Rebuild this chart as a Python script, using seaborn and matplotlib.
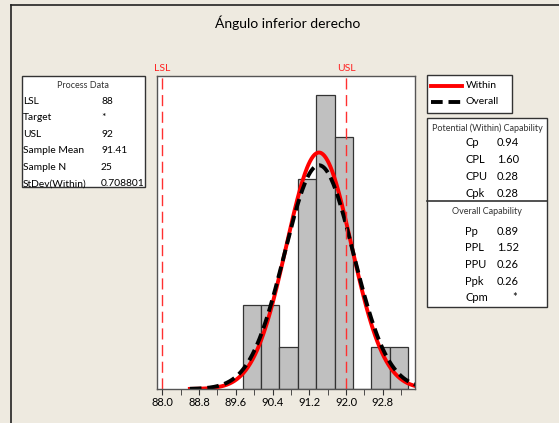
import numpy as np
import pandas as pd
import matplotlib
matplotlib.use("Agg")
import matplotlib.pyplot as plt
from matplotlib.lines import Line2D
from matplotlib.patches import Rectangle
import seaborn as sns

# histogram bins (midpoints) and counts
bin_mid = [89.95, 90.35, 90.75, 91.15, 91.55, 91.95, 92.35, 92.75, 93.15]
counts = [2, 2, 1, 5, 7, 6, 0, 1, 1]
bin_edges = [89.75, 90.15, 90.55, 90.95, 91.35, 91.75, 92.15, 92.55, 92.95, 93.35]

lsl = 88.0
usl = 92.0
mean = 91.41
n = 25
sd_within = 0.708801
sd_overall = 0.749

xticks = [88.0, 88.8, 89.6, 90.4, 91.2, 92.0, 92.8]

proc_labels = ["LSL", "Target", "USL", "Sample Mean", "Sample N", "StDev(Within)"]
proc_values = ["88", "*", "92", "91.41", "25", "0.708801"]
pot_labels = ["Cp", "CPL", "CPU", "Cpk"]
pot_values = ["0.94", "1.60", "0.28", "0.28"]
ovr_labels = ["Pp", "PPL", "PPU", "Ppk", "Cpm"]
ovr_values = ["0.89", "1.52", "0.26", "0.26", "*"]

W, H = 559, 423
bg = "#EEEAE0"
FONT = ["Lato", "DejaVu Sans"]
plt.rcParams["font.family"] = FONT

fig = plt.figure(figsize=(W / 100, H / 100), dpi=100, facecolor=bg)

def fx(x):
    return x / W

def fy(y):
    return 1 - y / H

# outer frame lines
fig.add_artist(Line2D([fx(11), 1], [fy(5), fy(5)], color="#222222", lw=1.2))
fig.add_artist(Line2D([fx(11), fx(11)], [fy(5), 0], color="#222222", lw=1.2))

fig.text(fx(288), fy(23), "Ángulo inferior derecho", ha="center", va="center", fontsize=10)

# main plot
ax = fig.add_axes([fx(157), fy(389), fx(415 - 157), (389 - 76) / H])
ax.set_facecolor("white")
hist_df = pd.DataFrame({"x": bin_mid, "w": counts})
sns.histplot(data=hist_df, x="x", weights="w", bins=bin_edges, stat="count",
             color="#C0C0C0", edgecolor="#333333", linewidth=0.9, alpha=1, ax=ax)

xs = np.linspace(88.6, 93.52, 300)
scale = n * 0.4
curve = pd.DataFrame({
    "x": xs,
    "within": scale * np.exp(-0.5 * ((xs - mean) / sd_within) ** 2) / (sd_within * np.sqrt(2 * np.pi)),
    "overall": scale * np.exp(-0.5 * ((xs - mean) / sd_overall) ** 2) / (sd_overall * np.sqrt(2 * np.pi)),
})
sns.lineplot(data=curve, x="x", y="within", color="#FF0000", lw=2.8, ax=ax)
sns.lineplot(data=curve, x="x", y="overall", color="black", lw=2.8, ax=ax,
             linestyle=(0, (3, 1.5)))

ax.axvline(lsl, color="#FF3030", lw=1, linestyle=(0, (8, 4)))
ax.axvline(usl, color="#FF3030", lw=1, linestyle=(0, (8, 4)))
ax.text(lsl, 1.01, "LSL", transform=ax.get_xaxis_transform(), color="#FF2020",
        ha="center", va="bottom", fontsize=7.5)
ax.text(usl, 1.01, "USL", transform=ax.get_xaxis_transform(), color="#FF2020",
        ha="center", va="bottom", fontsize=7.5)

ax.set_xlim(87.885, 93.5)
ax.set_ylim(0, 7.45)
ax.set_xticks(xticks)
ax.set_xticklabels([f"{t:.1f}" for t in xticks], fontsize=8)
ax.set_xticks(np.arange(88.4, 93.3, 0.8), minor=True)
ax.tick_params(axis="x", which="both", length=4, color="#333333", pad=2)
ax.set_yticks([])
ax.set_xlabel("")
ax.set_ylabel("")
for s in ax.spines.values():
    s.set_color("#555555")
    s.set_linewidth(1)

# process data box
fig.add_artist(Rectangle((fx(22), fy(187)), fx(145 - 22), (187 - 76) / H,
                         transform=fig.transFigure, facecolor="white",
                         edgecolor="#333333", lw=1))
fig.text(fx(83), fy(86), "Process Data", ha="center", va="center", fontsize=6.5, color="#333333")
for i, (lab, val) in enumerate(zip(proc_labels, proc_values)):
    y = 101 + i * 16.6
    fig.text(fx(23), fy(y), lab, ha="left", va="center", fontsize=7.4)
    fig.text(fx(101), fy(y), val, ha="left", va="center", fontsize=7.4)

# legend box
fig.add_artist(Rectangle((fx(427), fy(113)), fx(512 - 427), (113 - 75) / H,
                         transform=fig.transFigure, facecolor="white",
                         edgecolor="#333333", lw=1))
fig.add_artist(Line2D([fx(431), fx(462)], [fy(86), fy(86)], color="#FF0000", lw=2.8))
fig.add_artist(Line2D([fx(431), fx(462)], [fy(102), fy(102)], color="black", lw=2.8,
                      linestyle=(0, (3, 1.5))))
fig.text(fx(466), fy(86), "Within", ha="left", va="center", fontsize=7.5)
fig.text(fx(466), fy(102), "Overall", ha="left", va="center", fontsize=7.5)

# capability box
fig.add_artist(Rectangle((fx(427), fy(307)), fx(547 - 427), (307 - 118) / H,
                         transform=fig.transFigure, facecolor="white",
                         edgecolor="#333333", lw=1))
fig.add_artist(Line2D([fx(427), fx(547)], [fy(201), fy(201)], color="#333333", lw=1.2))
fig.text(fx(487), fy(128), "Potential (Within) Capability", ha="center", va="center",
         fontsize=6.5, color="#333333")
for i, (lab, val) in enumerate(zip(pot_labels, pot_values)):
    y = 142 + i * 17.3
    fig.text(fx(465), fy(y), lab, ha="left", va="center", fontsize=8)
    fig.text(fx(497), fy(y), val, ha="left", va="center", fontsize=8)
fig.text(fx(487), fy(212), "Overall Capability", ha="center", va="center",
         fontsize=6.5, color="#333333")
for i, (lab, val) in enumerate(zip(ovr_labels, ovr_values)):
    y = 231 + i * 16.7
    fig.text(fx(465), fy(y), lab, ha="left", va="center", fontsize=8)
    if val == "*":
        fig.text(fx(515), fy(y), val, ha="center", va="center", fontsize=8)
    else:
        fig.text(fx(497), fy(y), val, ha="left", va="center", fontsize=8)

fig.savefig("out.png", dpi=100, facecolor=bg)
